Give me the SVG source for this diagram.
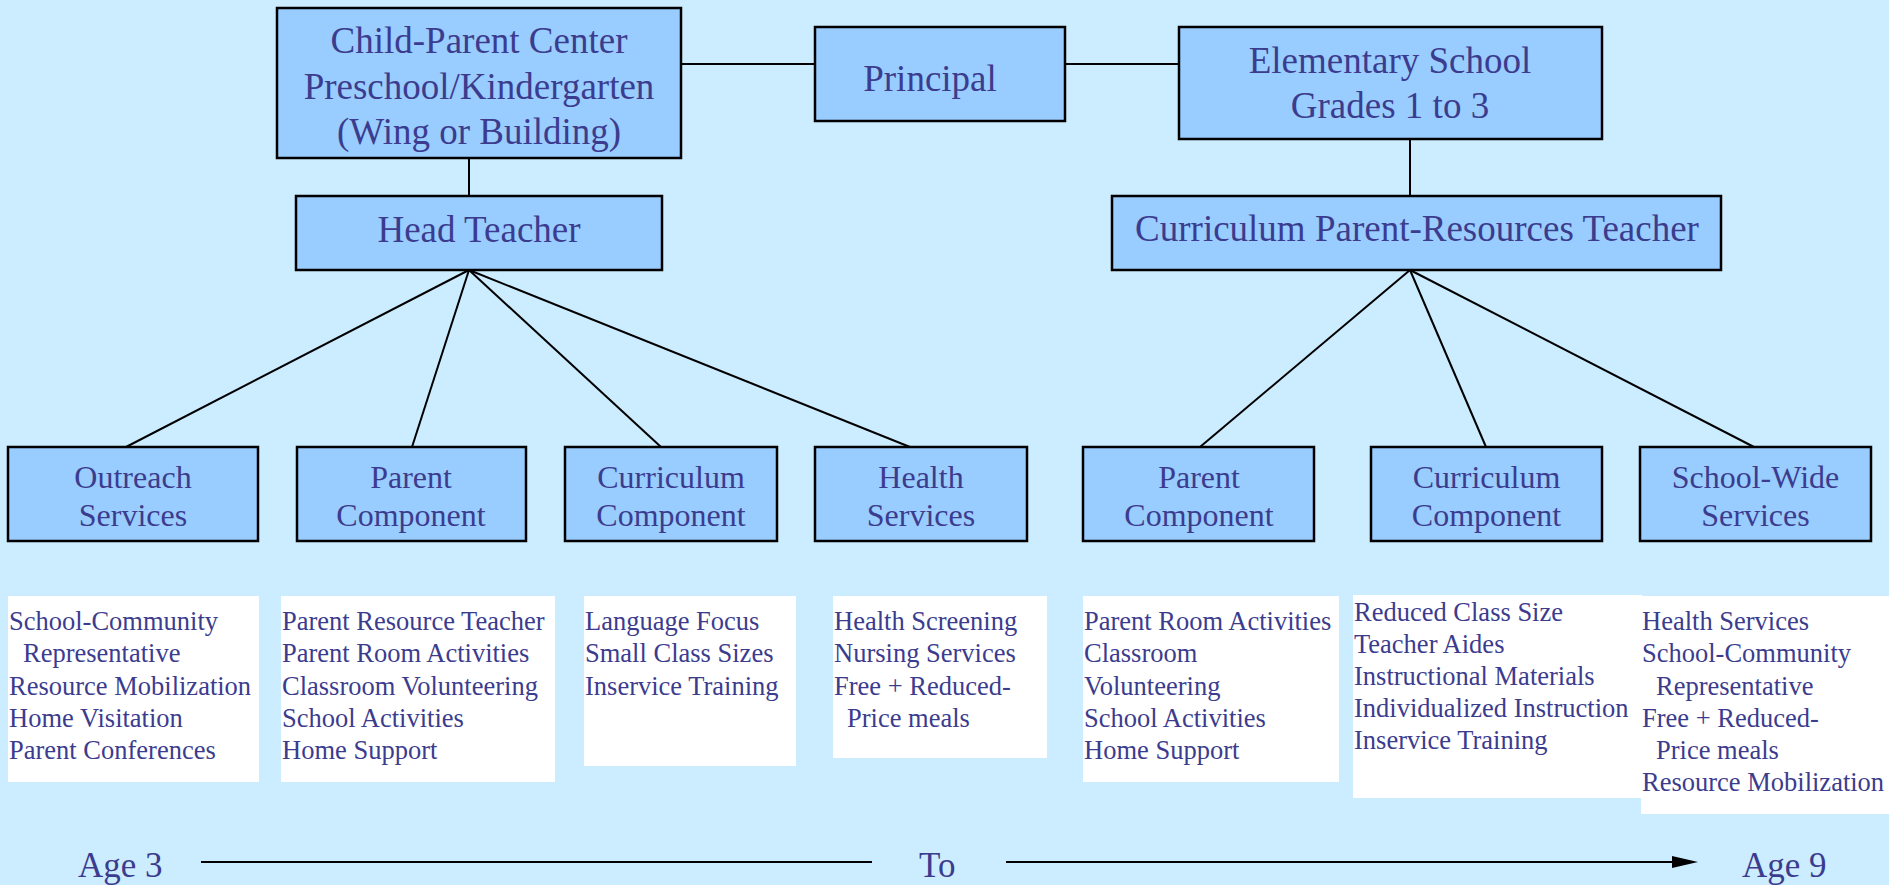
<svg xmlns="http://www.w3.org/2000/svg" width="1889" height="885" viewBox="0 0 1889 885">
<defs>
<style>
.bg{fill:#CCECFF}
.box{fill:#99CCFF;stroke:#000;stroke-width:2.5}
.wbox{fill:#FFFFFF}
.t{font-family:"Liberation Serif","Times New Roman",serif;fill:#3C3C8E}
.big{font-size:37px;text-anchor:middle}
.mid{font-size:32px;text-anchor:middle}
.sm{font-size:26.5px}
.age{font-size:35px}
.ln{stroke:#000;stroke-width:2;fill:none}
</style>
<marker id="arr" viewBox="0 0 10 10" refX="10" refY="5" markerWidth="25" markerHeight="12" markerUnits="userSpaceOnUse" orient="auto" preserveAspectRatio="none">
<path d="M0,0 L10,5 L0,10 Z" fill="#000"/>
</marker>
</defs>
<rect class="bg" x="0" y="0" width="1889" height="885"/>

<g id="connectors">
<line class="ln" x1="681" y1="64" x2="815" y2="64"/>
<line class="ln" x1="1065" y1="64" x2="1179" y2="64"/>
<line class="ln" x1="469" y1="158" x2="469" y2="196"/>
<line class="ln" x1="1410" y1="139" x2="1410" y2="196"/>
<line class="ln" x1="469" y1="270" x2="126" y2="447"/>
<line class="ln" x1="469" y1="270" x2="412" y2="447"/>
<line class="ln" x1="469" y1="270" x2="661" y2="447"/>
<line class="ln" x1="469" y1="270" x2="910" y2="447"/>
<line class="ln" x1="1410" y1="270" x2="1200" y2="447"/>
<line class="ln" x1="1410" y1="270" x2="1486" y2="447"/>
<line class="ln" x1="1410" y1="270" x2="1754" y2="447"/>
</g>

<g id="cpc">
<rect class="box" x="277" y="8" width="404" height="150"/>
<text class="t big" x="479" y="53">Child-Parent Center</text>
<text class="t big" x="479" y="98.5">Preschool/Kindergarten</text>
<text class="t big" x="479" y="144">(Wing or Building)</text>
</g>

<g id="principal">
<rect class="box" x="815" y="27" width="250" height="94"/>
<text class="t big" x="930" y="91">Principal</text>
</g>

<g id="elementary">
<rect class="box" x="1179" y="27" width="423" height="112"/>
<text class="t big" x="1390" y="72.5">Elementary School</text>
<text class="t big" x="1390" y="117.5">Grades 1 to 3</text>
</g>

<g id="head-teacher">
<rect class="box" x="296" y="196" width="366" height="74"/>
<text class="t big" x="479" y="241.5">Head Teacher</text>
</g>

<g id="cprt">
<rect class="box" x="1112" y="196" width="609" height="74"/>
<text class="t big" x="1417" y="241">Curriculum Parent-Resources Teacher</text>
</g>

<g id="outreach">
<rect class="box" x="8" y="447" width="250" height="94"/>
<text class="t mid" x="133" y="488">Outreach</text>
<text class="t mid" x="133" y="526">Services</text>
</g>

<g id="parent-left">
<rect class="box" x="297" y="447" width="229" height="94"/>
<text class="t mid" x="411" y="488">Parent</text>
<text class="t mid" x="411" y="526">Component</text>
</g>

<g id="curriculum-left">
<rect class="box" x="565" y="447" width="212" height="94"/>
<text class="t mid" x="671" y="488">Curriculum</text>
<text class="t mid" x="671" y="526">Component</text>
</g>

<g id="health">
<rect class="box" x="815" y="447" width="212" height="94"/>
<text class="t mid" x="921" y="488">Health</text>
<text class="t mid" x="921" y="526">Services</text>
</g>

<g id="parent-right">
<rect class="box" x="1083" y="447" width="231" height="94"/>
<text class="t mid" x="1199" y="488">Parent</text>
<text class="t mid" x="1199" y="526">Component</text>
</g>

<g id="curriculum-right">
<rect class="box" x="1371" y="447" width="231" height="94"/>
<text class="t mid" x="1486.5" y="488">Curriculum</text>
<text class="t mid" x="1486.5" y="526">Component</text>
</g>

<g id="school-wide">
<rect class="box" x="1640" y="447" width="231" height="94"/>
<text class="t mid" x="1755.5" y="488">School-Wide</text>
<text class="t mid" x="1755.5" y="526">Services</text>
</g>

<g id="list-outreach">
<rect class="wbox" x="8" y="596" width="251" height="186"/>
<text class="t sm" x="9" y="630">School-Community</text>
<text class="t sm" x="23" y="662">Representative</text>
<text class="t sm" x="9" y="695">Resource Mobilization</text>
<text class="t sm" x="9" y="727">Home Visitation</text>
<text class="t sm" x="9" y="759">Parent Conferences</text>
</g>

<g id="list-parent-left">
<rect class="wbox" x="281" y="596" width="274" height="186"/>
<text class="t sm" x="282" y="630">Parent Resource Teacher</text>
<text class="t sm" x="282" y="662">Parent Room Activities</text>
<text class="t sm" x="282" y="695">Classroom Volunteering</text>
<text class="t sm" x="282" y="727">School Activities</text>
<text class="t sm" x="282" y="759">Home Support</text>
</g>

<g id="list-curriculum-left">
<rect class="wbox" x="584" y="596" width="212" height="170"/>
<text class="t sm" x="585" y="630">Language Focus</text>
<text class="t sm" x="585" y="662">Small Class Sizes</text>
<text class="t sm" x="585" y="695">Inservice Training</text>
</g>

<g id="list-health">
<rect class="wbox" x="833" y="596" width="214" height="162"/>
<text class="t sm" x="834" y="630">Health Screening</text>
<text class="t sm" x="834" y="662">Nursing Services</text>
<text class="t sm" x="834" y="695">Free + Reduced-</text>
<text class="t sm" x="847" y="727">Price meals</text>
</g>

<g id="list-parent-right">
<rect class="wbox" x="1083" y="596" width="256" height="186"/>
<text class="t sm" x="1084" y="630">Parent Room Activities</text>
<text class="t sm" x="1084" y="662">Classroom</text>
<text class="t sm" x="1084" y="695">Volunteering</text>
<text class="t sm" x="1084" y="727">School Activities</text>
<text class="t sm" x="1084" y="759">Home Support</text>
</g>

<g id="list-curriculum-right">
<rect class="wbox" x="1353" y="595" width="289" height="203"/>
<text class="t sm" x="1354" y="621">Reduced Class Size</text>
<text class="t sm" x="1354" y="653">Teacher Aides</text>
<text class="t sm" x="1354" y="685">Instructional Materials</text>
<text class="t sm" x="1354" y="717">Individualized Instruction</text>
<text class="t sm" x="1354" y="749">Inservice Training</text>
</g>

<g id="list-school-wide">
<rect class="wbox" x="1641" y="596" width="248" height="218"/>
<text class="t sm" x="1642" y="630">Health Services</text>
<text class="t sm" x="1642" y="662">School-Community</text>
<text class="t sm" x="1656" y="695">Representative</text>
<text class="t sm" x="1642" y="727">Free + Reduced-</text>
<text class="t sm" x="1656" y="759">Price meals</text>
<text class="t sm" x="1642" y="791">Resource Mobilization</text>
</g>

<g id="timeline">
<text class="t age" x="78" y="877">Age 3</text>
<line class="ln" x1="201" y1="862" x2="872" y2="862" stroke-width="3"/>
<text class="t age" x="919" y="877">To</text>
<line class="ln" x1="1006" y1="862" x2="1680" y2="862" stroke-width="3"/>
<path d="M1672,856 L1698,862 L1672,868 Z" fill="#000"/>
<text class="t age" x="1742" y="877">Age 9</text>
</g>
</svg>
